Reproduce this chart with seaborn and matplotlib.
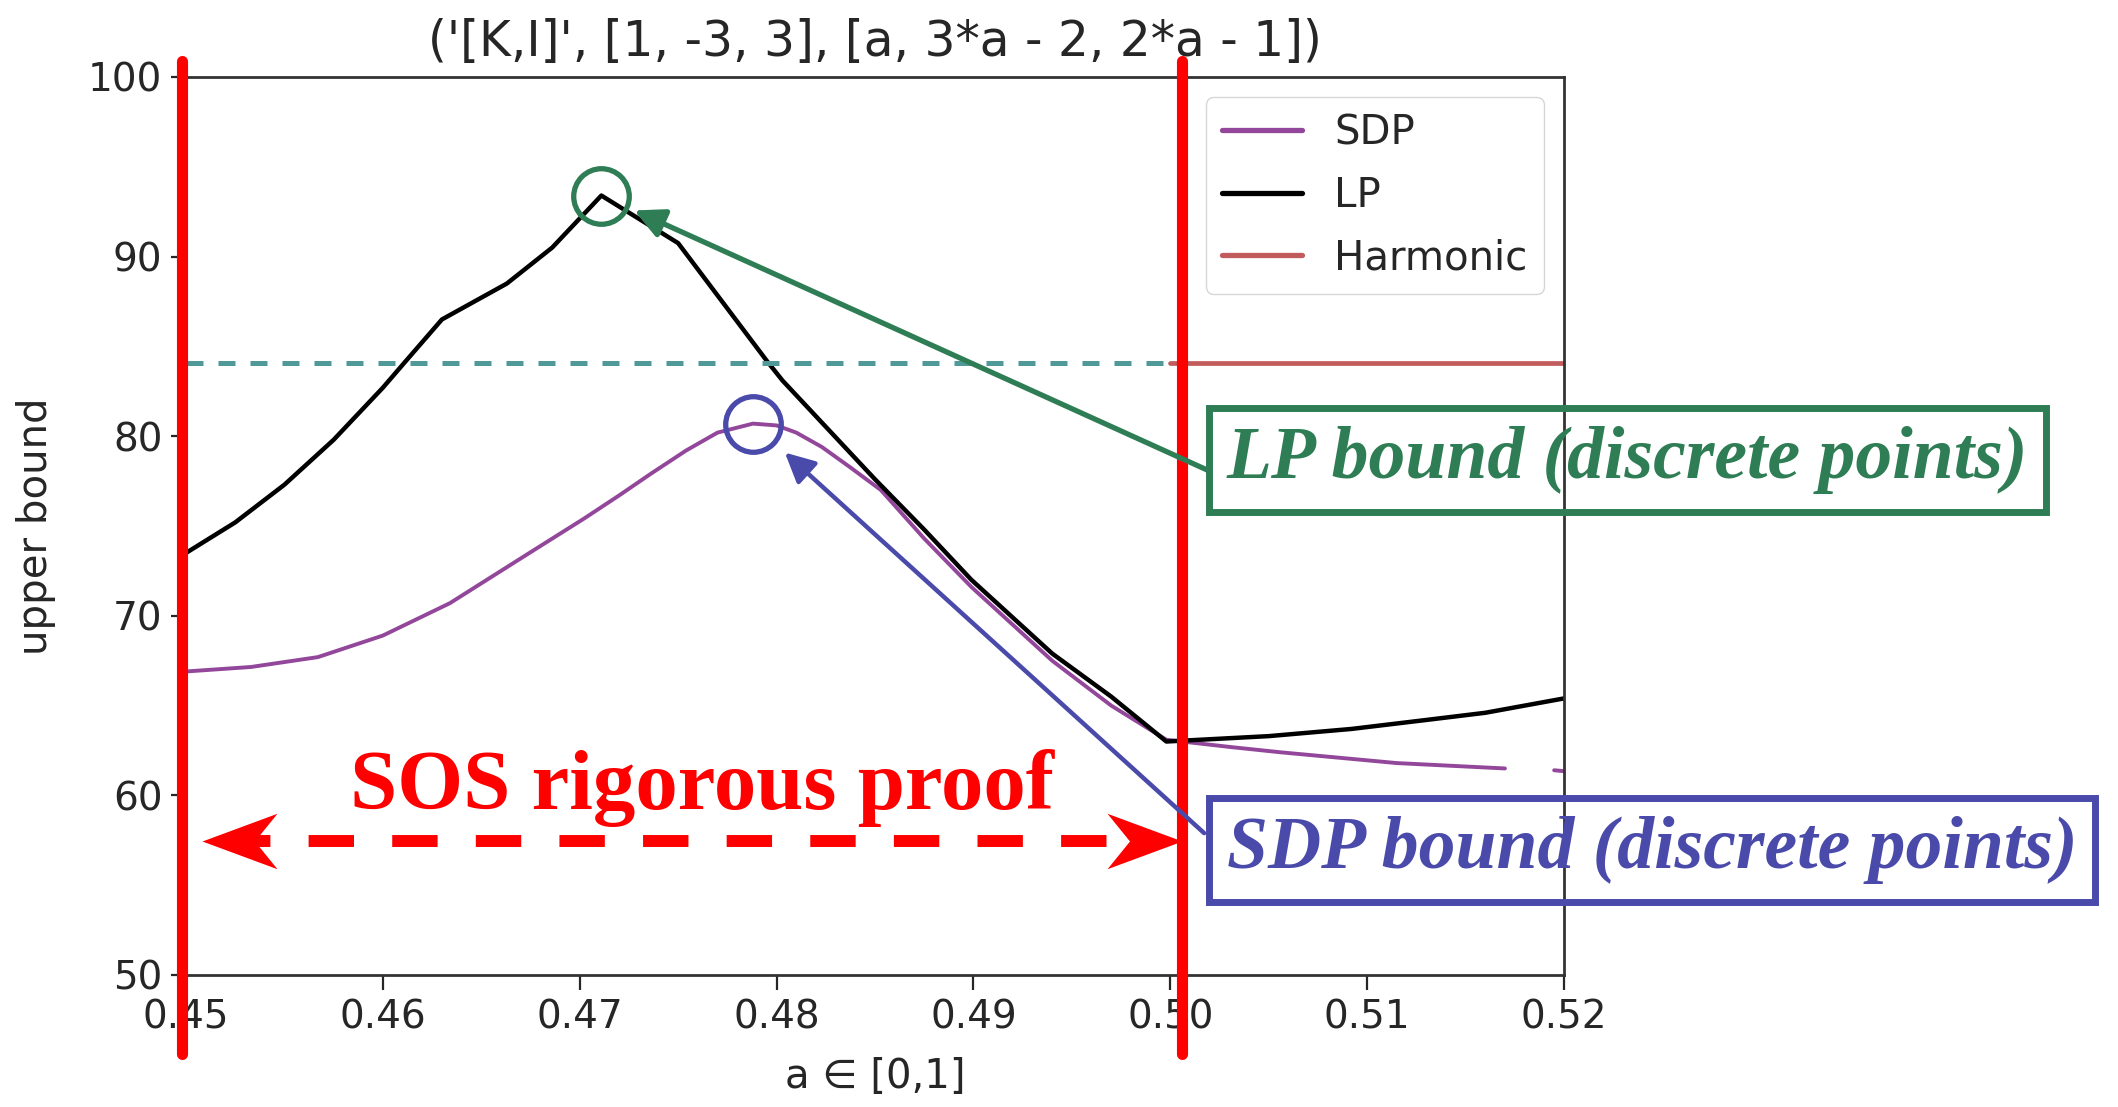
import numpy as np
import seaborn as sns
import matplotlib.pyplot as plt
from matplotlib.path import Path

# values
a_sdp = [0.4500, 0.4533, 0.4567, 0.4600, 0.4634, 0.4673, 0.4702, 0.4720, 0.4736,
         0.4754, 0.4770, 0.4788, 0.4800, 0.4810, 0.4823, 0.4837, 0.4853, 0.4875,
         0.4899, 0.4940, 0.4970, 0.4998, 0.5030, 0.5056, 0.5115, 0.5170]
sdp = [66.9, 67.15, 67.7, 68.9, 70.7, 73.4, 75.4, 76.7, 77.9,
       79.2, 80.2, 80.7, 80.6, 80.2, 79.4, 78.3, 77.0, 74.3,
       71.6, 67.5, 65.0, 63.1, 62.7, 62.4, 61.8, 61.5]
# short piece of the SDP curve visible again at the right edge
a_sdp_tail = [0.5195, 0.5200]
sdp_tail = [61.4, 61.35]

a_lp = [0.4500, 0.4525, 0.4550, 0.4575, 0.4600, 0.4611, 0.4630, 0.4663, 0.4686,
        0.4711, 0.4750, 0.4795, 0.4803, 0.4850, 0.4875, 0.4899, 0.4940, 0.4970,
        0.4998, 0.5050, 0.5092, 0.5130, 0.5160, 0.5200]
lp = [73.5, 75.2, 77.3, 79.8, 82.7, 84.1, 86.5, 88.5, 90.5,
      93.4, 90.75, 84.2, 83.1, 77.6, 74.8, 72.0, 67.9, 65.5,
      63.0, 63.3, 63.7, 64.2, 64.6, 65.4]

a_harm = [0.50, 0.52]
harm = [84.1, 84.1]
a_ref = [0.45, 0.50]
ref = [84.1, 84.1]

x_ticks = [0.45, 0.46, 0.47, 0.48, 0.49, 0.50, 0.51, 0.52]
y_ticks = [50, 60, 70, 80, 90, 100]

title = "('[K,I]', [1, -3, 3], [a, 3*a - 2, 2*a - 1])"

# annotation anchors (data coords)
proof_lo, proof_hi = 0.4498, 0.5006
arrow_y = 57.46
green = "#2e7d55"
blue = "#4a4aaa"
red = "#ff0000"
purple = "#93479a"

sns.set_style("ticks")
plt.rcParams["font.family"] = ["DejaVu Sans"]

fig, ax = plt.subplots(figsize=(21.18, 11.07), dpi=100)
fig.subplots_adjust(left=186 / 2118, right=1564 / 2118,
                    bottom=1 - 975 / 1107, top=1 - 77 / 1107)

sns.lineplot(x=a_sdp, y=sdp, ax=ax, color=purple, lw=2.8, label="SDP")
sns.lineplot(x=a_lp, y=lp, ax=ax, color="black", lw=3.2, label="LP")
sns.lineplot(x=a_harm, y=harm, ax=ax, color="#c25b5b", lw=3.4, label="Harmonic")
sns.lineplot(x=a_sdp_tail, y=sdp_tail, ax=ax, color=purple, lw=2.8, legend=False)
sns.lineplot(x=a_ref, y=ref, ax=ax, color="#4f9a98", lw=3.6,
             linestyle=(0, (3.4, 3.0)), legend=False)

ax.set_xlim(0.45, 0.52)
ax.set_ylim(50, 100)
ax.set_xticks(x_ticks)
ax.set_xticklabels([f"{t:.2f}" for t in x_ticks])
ax.set_yticks(y_ticks)
ax.tick_params(axis="both", labelsize=28, length=11, width=1.6, pad=6, color="0.15")
for sp in ax.spines.values():
    sp.set_linewidth(2.0)
    sp.set_color("0.2")

ax.set_title(title, fontsize=35, pad=15)
ax.set_xlabel("a ∈ [0,1]", fontsize=29)
ax.set_ylabel("upper bound", fontsize=29)
ax.xaxis.set_label_coords(0.5, -0.091)
ax.yaxis.set_label_coords(-0.094, 0.5)

leg = ax.legend(loc="upper right", fontsize=29, labelspacing=0.56,
                frameon=True, fancybox=True, edgecolor="0.8")
for ln in leg.get_lines():
    ln.set_linewidth(3.8)

# red limits of the SOS proof range
for xv in (proof_lo, proof_hi):
    ax.axvline(xv, ymin=-0.088, ymax=1.018, color=red, lw=8,
               clip_on=False, zorder=6)

# circles around the peaks
i_lp = int(np.argmax(lp))
i_sdp = int(np.argmax(sdp))
ax.plot(a_lp[i_lp], lp[i_lp], marker="o", ms=40, mfc="none", mec=green,
        mew=3.8, zorder=7, clip_on=False)
ax.plot(a_sdp[i_sdp], sdp[i_sdp], marker="o", ms=40, mfc="none", mec=blue,
        mew=3.8, zorder=7, clip_on=False)

# arrows from the boxes to the circles
ax.annotate("", xy=(a_lp[i_lp], lp[i_lp]), xytext=(0.50187, 78.12),
            arrowprops=dict(arrowstyle="-|>", color=green, lw=3.8,
                            mutation_scale=45, shrinkA=0, shrinkB=26),
            zorder=7, annotation_clip=False)
ax.annotate("", xy=(a_sdp[i_sdp], sdp[i_sdp]), xytext=(0.50172, 57.9),
            arrowprops=dict(arrowstyle="-|>", color=blue, lw=3.2,
                            mutation_scale=45, shrinkA=0, shrinkB=31),
            zorder=7, annotation_clip=False)

ax.text(0.50288, 77.67, "LP bound (discrete points)", color=green,
        family="Liberation Serif", fontsize=53, weight="bold", style="italic",
        ha="left", va="baseline", zorder=8,
        bbox=dict(boxstyle="square,pad=0.24", fc="none", ec=green, lw=5))
ax.text(0.50288, 55.96, "SDP bound (discrete points)", color=blue,
        family="Liberation Serif", fontsize=53, weight="bold", style="italic",
        ha="left", va="baseline", zorder=8,
        bbox=dict(boxstyle="square,pad=0.24", fc="none", ec=blue, lw=5))

# dashed double arrow with notched heads
head_r = Path([(0, 0), (-1, 0.37), (-0.70, 0), (-1, -0.37), (0, 0)],
              [Path.MOVETO, Path.LINETO, Path.LINETO, Path.LINETO, Path.CLOSEPOLY])
head_l = Path([(0, 0), (1, 0.37), (0.70, 0), (1, -0.37), (0, 0)],
              [Path.MOVETO, Path.LINETO, Path.LINETO, Path.LINETO, Path.CLOSEPOLY])
ax.plot([0.4520, 0.4994], [arrow_y, arrow_y], color=red, lw=8.6,
        linestyle=(0, (3.8, 3.2)), dash_capstyle="butt", zorder=6)
ax.plot(0.45079, arrow_y, marker=head_l, ms=108, color=red, mew=0, zorder=6)
ax.plot(0.5006, arrow_y, marker=head_r, ms=108, color=red, mew=0, zorder=6)

ax.text(0.47619, 59.24, "SOS rigorous proof", color=red, family="Liberation Serif",
        fontsize=61, weight="bold", ha="center", va="baseline", zorder=8)

fig.savefig("out.png", dpi=100)
